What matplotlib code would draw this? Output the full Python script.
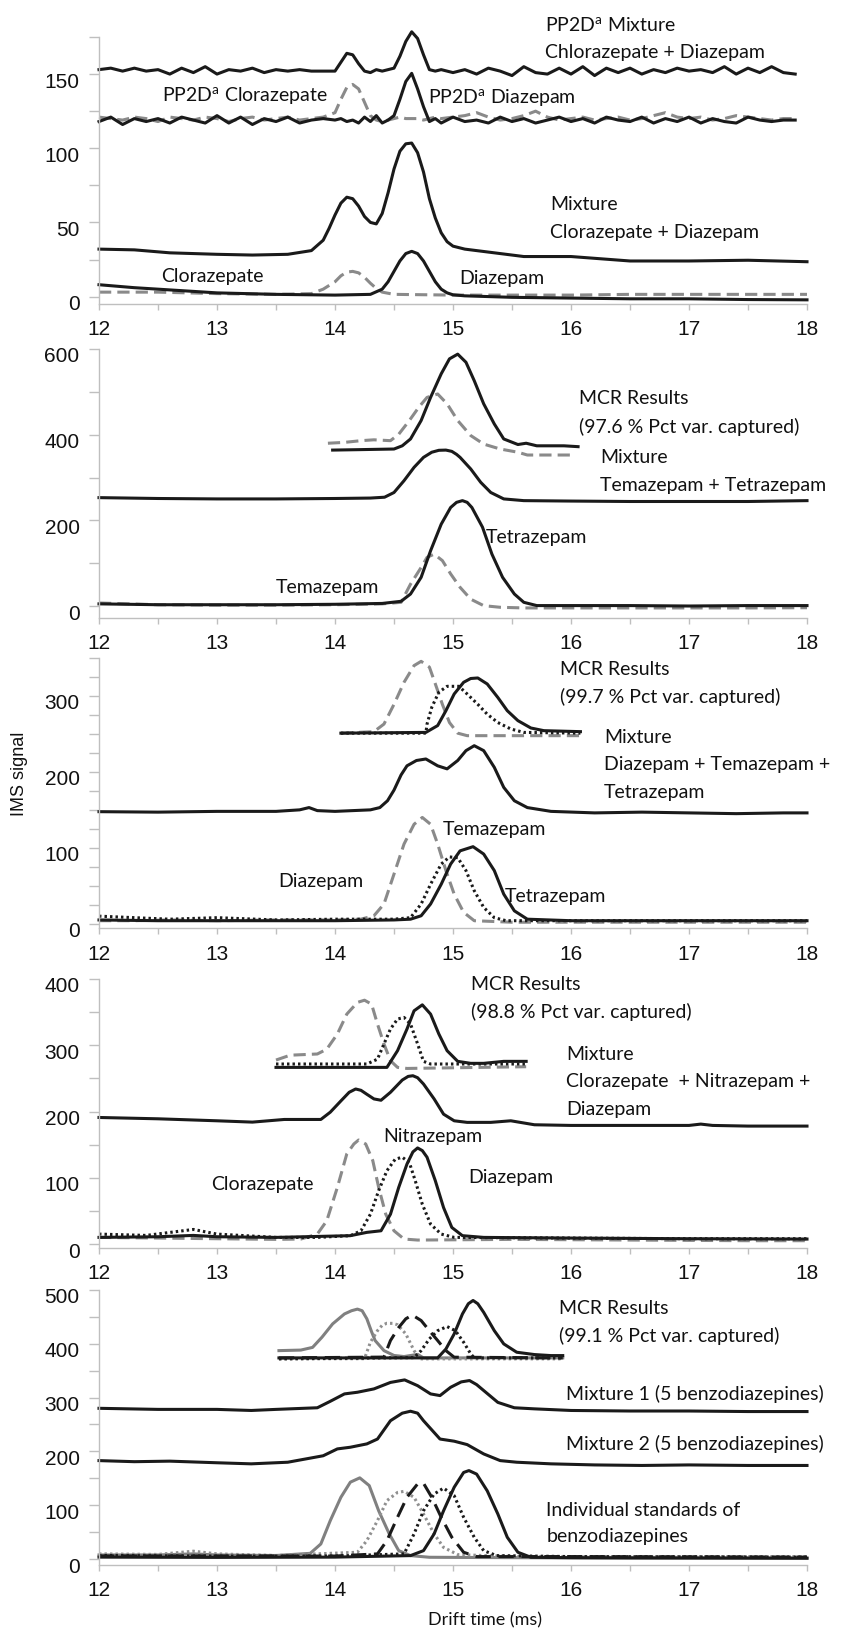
import numpy as np
import matplotlib
matplotlib.use("Agg")
import matplotlib.pyplot as plt
import matplotlib.transforms as mtransforms
from matplotlib.ticker import MultipleLocator, FixedLocator

# > Fonts
TICK_FONT = ["Liberation Sans", "DejaVu Sans"]
NOTE_FONT = ["Lato", "DejaVu Sans"]
plt.rcParams["mathtext.fontset"] = "custom"
plt.rcParams["mathtext.rm"] = "Lato"
plt.rcParams["mathtext.it"] = "Lato:italic"
FONT_TICKS = 15
FONT_NOTES = 14
# <

BLACK = "#1a1a1a"
GRAY = "#8a8a8a"
GRAY2 = "#808080"
SPINE = "#bfbfbf"

# ---------------- panel 1: clorazepate + diazepam ----------------
pp_x = [12.0, 12.1, 12.2, 12.3, 12.4, 12.5, 12.6, 12.7, 12.8, 12.9,
        13.0, 13.1, 13.2, 13.3, 13.4, 13.5, 13.6, 13.7, 13.8, 13.9,
        14.0, 14.05, 14.1, 14.15, 14.2, 14.25, 14.3, 14.35, 14.4, 14.45,
        14.5, 14.55, 14.6, 14.65, 14.7, 14.75, 14.8, 14.85, 14.9,
        15.0, 15.1, 15.2, 15.3, 15.4, 15.5, 15.6, 15.7, 15.8, 15.9,
        16.0, 16.1, 16.2, 16.3, 16.4, 16.5, 16.6, 16.7, 16.8, 16.9,
        17.0, 17.1, 17.2, 17.3, 17.4, 17.5, 17.6, 17.7, 17.8, 17.9]
pp_mix = [153, 154, 152, 154, 152, 153, 150, 154, 151, 155,
          150, 153, 152, 154, 151, 153, 152, 153, 152, 152,
          152, 158, 164, 163, 157, 152, 151, 153, 152, 153,
          154, 162, 172, 178.5, 174, 163, 153, 152, 153,
          151, 153, 150, 154, 152, 149, 155, 151, 150, 154,
          150, 155, 149, 154, 151, 154, 150, 153, 151, 154,
          152, 153, 151, 155, 150, 154, 151, 155, 151, 150]
pp_diaz = [118, 121, 116, 120, 118, 120, 117, 121, 119, 117,
           122, 117, 121, 116, 120, 118, 121, 117, 119, 120,
           119, 120, 118, 119, 117, 121, 118, 122, 117, 119,
           122, 133, 145, 150.5, 140, 128, 118, 120, 117,
           121, 118, 119, 117, 121, 118, 120, 117, 119, 121,
           118, 120, 117, 121, 119, 118, 121, 117, 120, 118,
           121, 117, 120, 118, 117, 121, 119, 118, 119, 119]
pp_cloz = [121, 120, 119, 121, 120, 118, 121, 120, 119, 121,
           120, 118, 120, 121, 119, 120, 121, 119, 120, 121,
           124, 133, 141, 143, 140, 131, 122, 119, 118, 119,
           120, 121, 120, 120, 120, 119, 120, 121, 120,
           121, 122, 124, 121, 119, 120, 122, 125, 121, 119,
           120, 121, 119, 120, 121, 119, 120, 122, 124, 121,
           120, 121, 119, 120, 122, 121, 120, 119, 120, 120]

p1_mix_x = [12.0, 12.3, 12.6, 13.0, 13.3, 13.6, 13.8, 13.9, 13.95, 14.0, 14.05, 14.1,
            14.15, 14.2, 14.25, 14.3, 14.35, 14.4, 14.45, 14.5, 14.55, 14.6, 14.65,
            14.7, 14.75, 14.8, 14.85, 14.9, 14.95, 15.0, 15.1, 15.3, 15.6, 16.0,
            16.5, 17.0, 17.5, 18.0]
p1_mix_y = [32, 31.5, 29.5, 28.5, 28, 28.5, 31, 38, 46, 55, 63, 67,
            66, 61, 54, 50, 49, 56, 70, 86, 98, 103, 103.5,
            97, 84, 66, 53, 43, 37, 34, 32, 30, 27, 27,
            24, 24, 24.5, 23.5]
p1_diaz_x = [12.0, 12.3, 12.6, 13.0, 13.5, 14.0, 14.3, 14.4, 14.45, 14.5, 14.55, 14.6,
             14.65, 14.7, 14.75, 14.8, 14.85, 14.9, 14.95, 15.0, 15.1, 15.5, 16.0,
             16.5, 17.0, 17.5, 18.0]
p1_diaz_y = [8, 6, 4.5, 2.5, 1.5, 1, 1.5, 5, 10, 17, 24, 29,
             30.5, 29, 24, 17, 10, 5, 2.5, 1.2, 0.5, -0.5, -1,
             -1.5, -1.5, -2, -2.2]
p1_cloz_x = [12.0, 12.5, 13.0, 13.5, 13.8, 13.9, 14.0, 14.05, 14.1, 14.15, 14.2, 14.25,
             14.3, 14.35, 14.4, 14.5, 15.0, 15.5, 16.0, 16.5, 17.0, 17.5, 18.0]
p1_cloz_y = [3, 3, 2, 1.5, 2, 5, 10, 14, 16.5, 17, 16, 13,
             9, 5.5, 3, 1.5, 1, 1, 1, 1.5, 1.5, 1.5, 1.5]

# ---------------- panel 2: temazepam + tetrazepam ----------------
p2_mcr_solid_x = [13.98, 14.2, 14.5, 14.57, 14.64, 14.73, 14.81, 14.9, 14.97, 15.04,
                  15.11, 15.18, 15.26, 15.35, 15.43, 15.55, 15.62, 15.71, 15.94, 16.06]
p2_mcr_solid_y = [364, 365, 366.5, 374, 390, 433, 487, 542, 577, 588,
                  569, 526, 472, 425, 390, 377, 380, 374, 374, 372]
p2_mcr_dash_x = [13.94, 14.08, 14.22, 14.33, 14.47, 14.54, 14.63, 14.71, 14.78, 14.87,
                 14.95, 15.04, 15.15, 15.26, 15.4, 15.55, 15.63, 16.0]
p2_mcr_dash_y = [380, 382, 386, 388, 386, 401, 433, 464, 487, 495,
                 472, 433, 398, 378, 366.5, 359, 352.5, 352.5]
p2_mix_x = [12.0, 12.5, 13.0, 13.5, 14.0, 14.3, 14.42, 14.5, 14.585, 14.67, 14.75, 14.82,
            14.88, 14.94, 14.99, 15.03, 15.06, 15.15, 15.235, 15.32, 15.43, 15.6, 16.0,
            16.5, 17.0, 17.5, 18.0]
p2_mix_y = [253, 251, 250, 250, 251, 252, 254, 265, 292.6, 323.7, 347, 359,
            363.5, 364, 361, 354, 347, 320, 288.7, 265, 250, 246, 245,
            244, 244, 244, 246]
p2_tetra_x = [12.0, 12.5, 13.0, 13.5, 14.0, 14.4, 14.56, 14.64, 14.73, 14.81, 14.9, 14.98,
              15.03, 15.08, 15.12, 15.16, 15.25, 15.33, 15.42, 15.52, 15.6, 15.71, 16.0,
              16.5, 17.0, 17.5, 18.0]
p2_tetra_y = [5, 3, 3, 3, 4, 6, 11, 28, 67, 129, 191, 230,
              242, 246, 242, 230, 184, 121, 67, 28, 8.6, 1, 1,
              1, 0, 1, 1]
p2_tema_x = [12.0, 12.5, 13.0, 13.5, 14.0, 14.4, 14.56, 14.64, 14.73, 14.78, 14.84, 14.91,
             14.98, 15.06, 15.15, 15.26, 15.4, 15.6, 16.0, 16.5, 17.0, 17.5, 18.0]
p2_tema_y = [7, 3, 2, 2, 3, 5, 8.6, 51, 90, 113.6, 121, 106,
             75, 43.6, 16, 0.8, -3, -4.5, -4.5, -4.5, -4.5, -4.5, -4]

# ---------------- panel 3: diazepam + temazepam + tetrazepam ----------------
p3_mcr_dash_x = [14.05, 14.33, 14.415, 14.5, 14.585, 14.67, 14.73, 14.8, 14.85, 14.91,
                 14.97, 15.04, 15.12, 16.08]
p3_mcr_dash_y = [251, 253, 263, 289, 318, 340, 345.6, 338, 316, 289,
                 265, 251, 247.7, 247.7]
p3_mcr_dot_x = [14.05, 14.77, 14.78, 14.82, 14.88, 14.95, 15.05, 15.12, 15.21, 15.29,
                15.38, 15.49, 15.6, 16.08]
p3_mcr_dot_y = [251, 251, 263, 285, 305, 312.7, 312.7, 302.6, 289, 276,
                265, 256.5, 252, 251]
p3_mcr_solid_x = [14.05, 14.77, 14.87, 14.94, 15.01, 15.09, 15.15, 15.21, 15.29, 15.38,
                  15.46, 15.55, 15.66, 15.77, 16.08]
p3_mcr_solid_y = [251, 252, 261, 280.6, 302.6, 318, 323, 323.7, 315.8, 298,
                  280.6, 267.5, 257.8, 254.3, 253]
p3_mix_x = [12.0, 12.5, 13.0, 13.5, 13.7, 13.78, 13.85, 14.0, 14.3, 14.38, 14.445, 14.5,
            14.56, 14.61, 14.69, 14.77, 14.87, 14.95, 15.04, 15.11, 15.18, 15.26, 15.35,
            15.43, 15.52, 15.63, 15.83, 16.2, 16.6, 17.0, 17.4, 17.8, 18.0]
p3_mix_y = [147.6, 147, 148, 148, 150, 153, 149, 148, 150, 153, 162, 176,
            196, 208, 215, 217, 208, 204, 215, 228, 234.5, 228, 206,
            179.6, 162, 153, 148, 146, 147, 146, 145, 146, 146]
p3_diaz_x = [12.0, 12.3, 12.6, 13.0, 13.5, 14.0, 14.22, 14.33, 14.415, 14.5, 14.585, 14.67,
             14.74, 14.81, 14.87, 14.94, 15.01, 15.09, 15.18, 15.5, 16.0, 16.5, 17.0,
             17.5, 18.0]
p3_diaz_y = [4, 4, 5, 4, 5, 5, 6, 10.5, 26, 65.4, 105, 131,
             140, 131, 105, 70, 39, 15, 4, 2, 2, 2, 2,
             2, 2]
p3_tema_x = [12.0, 12.3, 12.6, 13.0, 13.5, 14.0, 14.5, 14.64, 14.73, 14.81, 14.9, 14.97,
             15.04, 15.11, 15.18, 15.26, 15.35, 15.45, 16.0, 17.0, 18.0]
p3_tema_y = [10, 8, 6, 8, 5, 6, 6, 8, 26, 52, 78.6, 88,
             87, 70, 43.5, 21.5, 8, 4, 4, 4, 4]
p3_tetra_x = [12.0, 12.5, 13.0, 13.5, 14.0, 14.5, 14.64, 14.73, 14.81, 14.9, 14.98, 15.06,
              15.17, 15.26, 15.35, 15.43, 15.52, 15.63, 16.0, 17.0, 18.0]
p3_tetra_y = [5, 4, 4, 4, 4, 5, 6, 10.5, 26, 52, 78.6, 96,
              101.5, 91.8, 70, 39, 17, 6, 4, 4, 4]

# ---------------- panel 4: clorazepate + nitrazepam + diazepam ----------------
p4_mcr_dash_x = [13.5, 13.62, 13.85, 13.93, 14.02, 14.1, 14.19, 14.25, 14.31, 14.36,
                 14.415, 14.47, 14.53, 14.61, 15.62]
p4_mcr_dash_y = [277.7, 285, 286.8, 294, 317, 347, 364.7, 368, 362, 332,
                 302, 276.7, 266.6, 265, 267.6]
p4_mcr_dot_x = [13.5, 14.27, 14.36, 14.415, 14.47, 14.53, 14.585, 14.64, 14.7, 14.75,
                14.81, 15.62]
p4_mcr_dot_y = [271.7, 271.7, 279, 302, 324.5, 339.6, 342, 332, 302, 275.7,
                271.7, 271.7]
p4_mcr_solid_x = [13.5, 14.44, 14.53, 14.61, 14.67, 14.74, 14.81, 14.88, 14.95, 15.04,
                  15.15, 15.26, 15.43, 15.62]
p4_mcr_solid_y = [266.6, 266.6, 291.8, 324.5, 352, 361, 347, 317, 291.8, 275.7,
                  272.7, 272.7, 275.7, 275.7]
p4_mix_x = [12.0, 12.5, 13.0, 13.3, 13.57, 13.88, 13.96, 14.05, 14.12, 14.175, 14.22, 14.27,
            14.33, 14.39, 14.47, 14.57, 14.62, 14.66, 14.7, 14.75, 14.84, 14.92, 15.01,
            15.12, 15.32, 15.49, 15.69, 16.0, 16.5, 17.0, 17.1, 17.2, 17.5, 18.0]
p4_mix_y = [191, 189, 186, 184, 188, 188, 199, 216, 229, 234, 232, 226,
            219, 217, 229, 247.5, 253, 254, 251, 241.5, 219, 196, 186,
            183.6, 183.6, 186, 180, 179, 179, 179, 181, 179, 178, 178]
p4_cloz_x = [12.0, 12.5, 13.0, 13.5, 13.71, 13.85, 13.93, 14.02, 14.1, 14.16, 14.2, 14.26,
             14.32, 14.37, 14.43, 14.5, 14.585, 14.7, 15.5, 16.5, 17.5, 18.0]
p4_cloz_y = [10, 9, 8, 7, 7.5, 15, 35, 85.5, 136, 151, 157, 151,
             126, 85.5, 45, 20, 7.5, 6, 7, 6, 5, 5]
p4_nitra_x = [12.0, 12.4, 12.8, 13.0, 13.5, 13.85, 14.13, 14.22, 14.3, 14.37, 14.44, 14.51,
              14.57, 14.63, 14.68, 14.74, 14.81, 14.9, 15.01, 16.0, 17.0, 18.0]
p4_nitra_y = [15, 13, 22, 15, 10, 10, 12.6, 20, 45, 80.5, 110.7, 128,
              131, 123, 95.6, 60, 30, 15, 10, 9, 8, 8]
p4_diaz_x = [12.0, 12.5, 12.8, 13.0, 13.5, 14.13, 14.27, 14.39, 14.47, 14.54, 14.61, 14.66,
             14.7, 14.74, 14.78, 14.85, 14.92, 14.99, 15.08, 15.26, 16.0, 17.0, 18.0]
p4_diaz_y = [10, 11, 13, 11, 10, 12.6, 17.6, 20, 45, 85.5, 120.7, 139,
             145, 141, 131, 95.6, 55, 25, 12.6, 10, 9, 8, 7.5]

# ---------------- panel 5: five benzodiazepines ----------------
p5_mcr_gsolid_x = [13.525, 13.71, 13.81, 13.89, 13.98, 14.08, 14.14, 14.19, 14.23, 14.27,
                   14.31, 14.34, 14.415, 14.5, 14.585, 14.7, 14.75, 15.93]
p5_mcr_gsolid_y = [387, 388, 393, 412, 436.6, 455, 461, 464, 461, 446,
                   422, 405.7, 387, 378, 376, 380, 373.5, 373.5]
p5_mcr_gdot_x = [13.525, 14.25, 14.3, 14.36, 14.4, 14.44, 14.49, 14.53, 14.6, 14.67, 14.72, 15.93]
p5_mcr_gdot_y = [371.7, 372, 402.6, 424, 434, 437.8, 437.5, 435, 418, 387, 371.7, 371.7]
p5_mcr_kdash_x = [13.525, 14.415, 14.47, 14.54, 14.6, 14.655, 14.73, 14.8, 14.87, 14.94,
                  15.01, 15.93]
p5_mcr_kdash_y = [373.5, 375, 405.7, 430, 446, 453, 442.8, 424, 405.7, 387,
                  374.8, 373.5]
p5_mcr_kdot_x = [13.525, 14.67, 14.73, 14.8, 14.87, 14.95, 15.02, 15.09, 15.15, 15.18, 15.93]
p5_mcr_kdot_y = [371.7, 374, 387, 408.8, 424, 431.6, 424, 402.6, 381, 373.5, 373.5]
p5_mcr_ksolid_x = [13.525, 14.87, 14.94, 15.01, 15.08, 15.13, 15.17, 15.21, 15.26, 15.35,
                   15.43, 15.54, 15.69, 15.83, 15.93]
p5_mcr_ksolid_y = [373.5, 373.5, 390, 418, 455, 474, 480, 474, 458, 424,
                   399.5, 384, 379.7, 377.8, 377.8]
p5_mix1_x = [12.0, 12.5, 13.0, 13.29, 13.5, 13.85, 13.96, 14.08, 14.19, 14.33, 14.47, 14.59,
             14.7, 14.81, 14.89, 14.98, 15.07, 15.14, 15.2, 15.26, 15.38, 15.52, 15.69,
             16.0, 16.5, 17.0, 17.5, 18.0]
p5_mix1_y = [280, 278, 278, 276, 278, 281, 293, 306.7, 309.8, 316, 328, 332.7,
             322, 306.7, 303.6, 319, 329, 331.5, 324, 313, 291, 281, 279,
             276, 275, 275, 274, 274]
p5_mix2_x = [12.0, 12.3, 12.6, 13.0, 13.29, 13.6, 13.9, 14.02, 14.13, 14.27, 14.36, 14.47,
             14.57, 14.64, 14.7, 14.75, 14.89, 15.01, 15.12, 15.26, 15.4, 15.54, 15.83,
             16.2, 16.6, 17.0, 17.5, 18.0]
p5_mix2_y = [183, 181, 182, 179, 177, 180, 192, 204.7, 207.8, 214, 223, 257,
             271, 274.6, 271, 257, 223, 219, 212.7, 195.4, 183, 180, 177,
             175, 174, 175, 174, 174]
p5_gsolid_x = [12.0, 12.5, 12.8, 13.0, 13.5, 13.79, 13.88, 13.96, 14.05, 14.13, 14.21, 14.29,
               14.37, 14.46, 14.54, 14.64, 14.8, 15.5, 16.5, 18.0]
p5_gsolid_y = [8, 8, 10, 8, 7, 11, 28.4, 71.7, 115, 143, 151, 136.7,
               90, 47, 16, 6.8, 3.7, 3, 2, 2]
p5_gdot_x = [12.0, 12.5, 12.8, 13.0, 13.5, 14.19, 14.27, 14.36, 14.44, 14.53, 14.585, 14.67,
             14.75, 14.84, 14.92, 15.04, 15.5, 16.5, 18.0]
p5_gdot_y = [10, 9, 15, 10, 7, 13, 34.6, 71.7, 108.8, 124, 126, 115,
             84, 47, 22, 8.7, 5, 5, 5]
p5_kdash_x = [12.0, 13.0, 14.0, 14.36, 14.44, 14.53, 14.61, 14.7, 14.75, 14.82, 14.9, 14.99,
              15.09, 15.2, 16.0, 18.0]
p5_kdash_y = [6, 6, 6, 10, 34.6, 78, 115, 139.8, 141, 115, 78, 40.8,
              13, 5, 5, 4]
p5_kdot_x = [12.0, 13.0, 14.0, 14.585, 14.67, 14.75, 14.84, 14.92, 15.01, 15.09, 15.18, 15.26,
             15.37, 16.0, 18.0]
p5_kdot_y = [7, 6, 6, 10, 47, 90, 121, 132, 118, 78, 40.8, 16,
             6.8, 5, 4]
p5_ksolid_x = [12.0, 13.0, 14.0, 14.64, 14.75, 14.84, 14.92, 15.01, 15.09, 15.135, 15.2, 15.29,
               15.38, 15.46, 15.55, 15.66, 16.0, 17.0, 18.0]
p5_ksolid_y = [4, 3.5, 4, 6.8, 16, 47, 90, 133.6, 161, 164.5, 158, 127,
               84, 40.8, 13, 3.7, 3, 2.5, 2]

# > line styles
LW = 2.2
SOLID = dict(color=BLACK, lw=LW, ls="-")
DASH = dict(color=GRAY, lw=LW, ls=(0, (4, 2)))
DOT = dict(color=BLACK, lw=LW, ls=(0, (0.8, 1.0)))
GSOLID = dict(color=GRAY2, lw=LW, ls="-")
GDOT = dict(color="#909090", lw=LW, ls=(0, (0.8, 1.0)))
KDASH = dict(color=BLACK, lw=LW, ls=(0, (5, 2.5)))
# <

W, H = 843, 1631
fig = plt.figure(figsize=(W / 100, H / 100), dpi=100)


def make_axes(top_px, bottom_px):
    left, right = 99, 807
    return fig.add_axes([left / W, 1 - bottom_px / H, (right - left) / W,
                         (bottom_px - top_px) / H])


def style(ax, ylim, major, minor):
    ax.set_xlim(12, 18)
    ax.set_ylim(*ylim)
    ax.xaxis.set_major_locator(MultipleLocator(1))
    ax.xaxis.set_minor_locator(MultipleLocator(0.5))
    ax.yaxis.set_major_locator(FixedLocator(major))
    ax.yaxis.set_minor_locator(FixedLocator(minor))
    for s in ["top", "right"]:
        ax.spines[s].set_visible(False)
    for s in ["left", "bottom"]:
        ax.spines[s].set_color(SPINE)
        ax.spines[s].set_linewidth(1.0)
    ax.tick_params(axis="x", which="both", direction="out", length=4, width=1,
                   color=SPINE, pad=7, labelsize=FONT_TICKS, labelcolor="#111111")
    ax.tick_params(axis="y", which="both", direction="out", length=7, width=1,
                   color=SPINE, pad=7, labelsize=FONT_TICKS, labelcolor="#111111")
    for lab in ax.get_xticklabels() + ax.get_yticklabels():
        lab.set_family(TICK_FONT)
    shift = mtransforms.ScaledTranslation(0, -5 / 100, fig.dpi_scale_trans)
    for lab in ax.get_yticklabels():
        lab.set_transform(lab.get_transform() + shift)
    ax.set_facecolor("none")
    # let peaks run over the axes top as in the original
    for line in ax.get_lines():
        line.set_clip_on(False)


def note(ax, x, y, s):
    ax.text(x, y, s, ha="left", va="center", fontsize=FONT_NOTES,
            family=NOTE_FONT, color="#111111")


# ---- panel 1
ax1 = make_axes(38, 305)
ax1.plot(pp_x, pp_cloz, **DASH)
ax1.plot(pp_x, pp_diaz, **SOLID)
ax1.plot(pp_x, pp_mix, **SOLID)
ax1.plot(p1_cloz_x, p1_cloz_y, **DASH)
ax1.plot(p1_diaz_x, p1_diaz_y, **SOLID)
ax1.plot(p1_mix_x, p1_mix_y, **SOLID)
style(ax1, (-5, 175), [0, 50, 100, 150], [25, 75, 125, 175])
note(ax1, 15.78, 184, r"PP2D$^{\mathrm{a}}$ Mixture")
note(ax1, 15.78, 165, "Chlorazepate + Diazepam")
note(ax1, 12.53, 136.3, r"PP2D$^{\mathrm{a}}$ Clorazepate")
note(ax1, 14.79, 134.7, r"PP2D$^{\mathrm{a}}$ Diazepam")
note(ax1, 15.82, 62.7, "Mixture")
note(ax1, 15.82, 44, "Clorazepate + Diazepam")
note(ax1, 12.53, 14, "Clorazepate")
note(ax1, 15.05, 12.6, "Diazepam")

# ---- panel 2
ax2 = make_axes(350, 619)
ax2.plot(p2_mcr_dash_x, p2_mcr_dash_y, **DASH)
ax2.plot(p2_mcr_solid_x, p2_mcr_solid_y, **SOLID)
ax2.plot(p2_mix_x, p2_mix_y, **SOLID)
ax2.plot(p2_tema_x, p2_tema_y, **DASH)
ax2.plot(p2_tetra_x, p2_tetra_y, **SOLID)
style(ax2, (-28, 600), [0, 200, 400, 600], [100, 300, 500])
note(ax2, 16.07, 487, "MCR Results")
note(ax2, 16.07, 421, "(97.6 % Pct var. captured)")
note(ax2, 16.25, 348.6, "Mixture")
note(ax2, 16.25, 284.8, "Temazepam + Tetrazepam")
note(ax2, 15.28, 162.7, "Tetrazepam")
note(ax2, 13.5, 46, "Temazepam")

# ---- panel 3
ax3 = make_axes(659, 929.3)
ax3.plot(p3_mcr_dash_x, p3_mcr_dash_y, **DASH)
ax3.plot(p3_mcr_dot_x, p3_mcr_dot_y, **DOT)
ax3.plot(p3_mcr_solid_x, p3_mcr_solid_y, **SOLID)
ax3.plot(p3_mix_x, p3_mix_y, **SOLID)
ax3.plot(p3_diaz_x, p3_diaz_y, **DASH)
ax3.plot(p3_tema_x, p3_tema_y, **DOT)
ax3.plot(p3_tetra_x, p3_tetra_y, **SOLID)
style(ax3, (-6, 350), [0, 100, 200, 300],
      [25, 50, 75, 125, 150, 175, 225, 250, 275, 325, 350])
note(ax3, 15.91, 336.5, "MCR Results")
note(ax3, 15.91, 299.6, "(99.7 % Pct var. captured)")
note(ax3, 16.28, 246.4, "Mixture")
note(ax3, 16.28, 210.4, "Diazepam + Temazepam +")
note(ax3, 16.28, 174, "Tetrazepam")
note(ax3, 14.91, 126, "Temazepam")
note(ax3, 13.52, 56.7, "Diazepam")
note(ax3, 15.44, 37, "Tetrazepam")

# ---- panel 4
ax4 = make_axes(980, 1249)
ax4.plot(p4_mcr_dash_x, p4_mcr_dash_y, **DASH)
ax4.plot(p4_mcr_dot_x, p4_mcr_dot_y, **DOT)
ax4.plot(p4_mcr_solid_x, p4_mcr_solid_y, **SOLID)
ax4.plot(p4_mix_x, p4_mix_y, **SOLID)
ax4.plot(p4_cloz_x, p4_cloz_y, **DASH)
ax4.plot(p4_nitra_x, p4_nitra_y, **DOT)
ax4.plot(p4_diaz_x, p4_diaz_y, **SOLID)
style(ax4, (-6, 400), [0, 100, 200, 300, 400], [50, 150, 250, 350])
note(ax4, 15.15, 393.5, "MCR Results")
note(ax4, 15.15, 352, "(98.8 % Pct var. captured)")
note(ax4, 15.96, 288, "Mixture")
note(ax4, 15.96, 246.5, "Clorazepate  + Nitrazepam +")
note(ax4, 15.96, 205, "Diazepam")
note(ax4, 14.41, 163.5, "Nitrazepam")
note(ax4, 15.13, 102, "Diazepam")
note(ax4, 12.95, 92, "Clorazepate")

# ---- panel 5
ax5 = make_axes(1290.7, 1566.2)
ax5.plot(p5_mcr_gsolid_x, p5_mcr_gsolid_y, **GSOLID)
ax5.plot(p5_mcr_gdot_x, p5_mcr_gdot_y, **GDOT)
ax5.plot(p5_mcr_kdash_x, p5_mcr_kdash_y, **KDASH)
ax5.plot(p5_mcr_kdot_x, p5_mcr_kdot_y, **DOT)
ax5.plot(p5_mcr_ksolid_x, p5_mcr_ksolid_y, **SOLID)
ax5.plot(p5_mix1_x, p5_mix1_y, **SOLID)
ax5.plot(p5_mix2_x, p5_mix2_y, **SOLID)
ax5.plot(p5_gsolid_x, p5_gsolid_y, **GSOLID)
ax5.plot(p5_gdot_x, p5_gdot_y, **GDOT)
ax5.plot(p5_kdash_x, p5_kdash_y, **KDASH)
ax5.plot(p5_kdot_x, p5_kdot_y, **DOT)
ax5.plot(p5_ksolid_x, p5_ksolid_y, **SOLID)
style(ax5, (-11, 500), [0, 100, 200, 300, 400, 500], [50, 150, 250, 350, 450])
note(ax5, 15.9, 467.5, "MCR Results")
note(ax5, 15.9, 416, "(99.1 % Pct var. captured)")
note(ax5, 15.96, 308.5, "Mixture 1 (5 benzodiazepines)")
note(ax5, 15.96, 215, "Mixture 2 (5 benzodiazepines)")
note(ax5, 15.79, 93, "Individual standards of")
note(ax5, 15.79, 44, "benzodiazepines")

# axis titles
fig.text(485 / W, 1 - 1620 / H, "Drift time (ms)", ha="center", va="center",
         fontsize=13, family=NOTE_FONT, color="#111111")
fig.text(19 / W, 1 - 774 / H, "IMS signal", ha="center", va="center",
         rotation=90, fontsize=13, family=TICK_FONT, color="#111111")

fig.savefig("out.png", dpi=100, facecolor="white")
